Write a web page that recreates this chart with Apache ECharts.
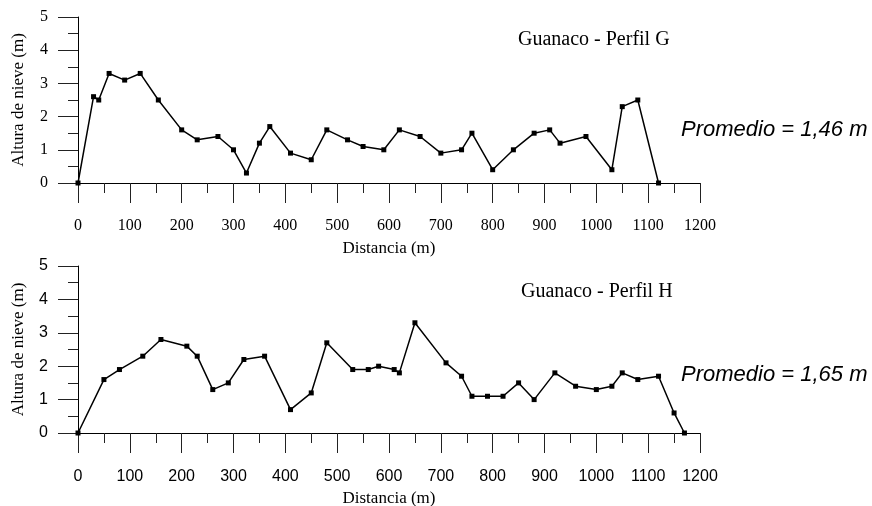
<!DOCTYPE html>
<html><head><meta charset="utf-8">
<script src="https://cdn.jsdelivr.net/npm/echarts@6/dist/echarts.min.js"></script>
<style>html,body{margin:0;padding:0;background:#fff}#c{width:872px;height:506px}</style>
</head><body><div id="c"></div>
<script>
// Perfil G
const distG = [0,30,40,60,90,120,155,200,230,270,300,325,350,370,410,450,480,520,550,590,620,660,700,740,760,800,840,880,910,930,980,1030,1050,1080,1120];
const altG  = [0,2.6,2.5,3.3,3.1,3.3,2.5,1.6,1.3,1.4,1.0,0.3,1.2,1.7,0.9,0.7,1.6,1.3,1.1,1.0,1.6,1.4,0.9,1.0,1.5,0.4,1.0,1.5,1.6,1.2,1.4,0.4,2.3,2.5,0];
// Perfil H
const distH = [0,50,80,125,160,210,230,260,290,320,360,410,450,480,530,560,580,610,620,650,710,740,760,790,820,850,880,920,960,1000,1030,1050,1080,1120,1150,1170];
const altH  = [0,1.6,1.9,2.3,2.8,2.6,2.3,1.3,1.5,2.2,2.3,0.7,1.2,2.7,1.9,1.9,2.0,1.9,1.8,3.3,2.1,1.7,1.1,1.1,1.1,1.5,1.0,1.8,1.4,1.3,1.4,1.8,1.6,1.7,0.6,0];
const titleG = 'Guanaco - Perfil G';
const titleH = 'Guanaco - Perfil H';
const promG = 'Promedio = 1,46 m';
const promH = 'Promedio = 1,65 m';
const xName = 'Distancia (m)';
const yName = 'Altura de nieve (m)';

const serif = '"Liberation Serif", "Times New Roman", serif';
const sans = '"Liberation Sans", Arial, sans-serif';

function xAxis(gi, font, size) {
  return {
    gridIndex: gi, type: 'value', min: 0, max: 1200, interval: 100,
    name: xName, nameLocation: 'middle', nameGap: 57,
    nameTextStyle: {fontFamily: serif, fontSize: 17, color: '#000'},
    axisLine: {onZero: false, lineStyle: {color: '#000', width: 1}},
    axisTick: {show: true, inside: false, length: 20, lineStyle: {color: '#222', width: 1}},
    minorTick: {show: true, splitNumber: 2, length: 10, lineStyle: {color: '#222', width: 1}},
    splitLine: {show: false},
    axisLabel: {margin: gi === 0 ? 35 : 36, fontFamily: font, fontSize: size, color: '#000',
      formatter: v => String(v)}
  };
}
function yAxis(gi, font, size) {
  return {
    gridIndex: gi, type: 'value', min: 0, max: 5, interval: 1,
    name: yName, nameLocation: 'middle', nameGap: 51, nameRotate: 90,
    nameTextStyle: {fontFamily: serif, fontSize: 17, color: '#000'},
    axisLine: {show: true, lineStyle: {color: '#000', width: 1}},
    axisTick: {show: true, inside: false, length: 20, lineStyle: {color: '#222', width: 1}},
    minorTick: {show: true, splitNumber: 2, length: 10, lineStyle: {color: '#222', width: 1}},
    splitLine: {show: false},
    axisLabel: {margin: 30, fontFamily: font, fontSize: size, color: '#000',
      formatter: v => String(v)}
  };
}
function series(xi, xs, ys) {
  return {
    type: 'line', xAxisIndex: xi, yAxisIndex: xi,
    data: xs.map((d, i) => [d, ys[i]]),
    symbol: 'rect', symbolSize: 5, showSymbol: true,
    lineStyle: {color: '#000', width: 1.5},
    itemStyle: {color: '#000'},
    animation: false
  };
}
const chart = echarts.init(document.getElementById('c'));
chart.setOption({
  backgroundColor: '#fff',
  animation: false,
  grid: [
    {left: 78, width: 622, top: 17, height: 166, containLabel: false, outerBoundsMode: 'none'},
    {left: 78, width: 622, top: 266, height: 167, containLabel: false, outerBoundsMode: 'none'}
  ],
  xAxis: [xAxis(0, serif, 16), xAxis(1, sans, 16)],
  yAxis: [yAxis(0, serif, 16), yAxis(1, sans, 16)],
  series: [series(0, distG, altG), series(1, distH, altH)],
  graphic: [
    {type: 'text', left: 518, top: 30, style: {text: titleG, font: '20px ' + serif, fill: '#000'}},
    {type: 'text', left: 521, top: 282, style: {text: titleH, font: '20px ' + serif, fill: '#000'}},
    {type: 'text', left: 681, top: 119, style: {text: promG, font: 'italic 22px ' + sans, fill: '#000'}},
    {type: 'text', left: 681, top: 364, style: {text: promH, font: 'italic 22px ' + sans, fill: '#000'}}
  ]
});
</script></body></html>
